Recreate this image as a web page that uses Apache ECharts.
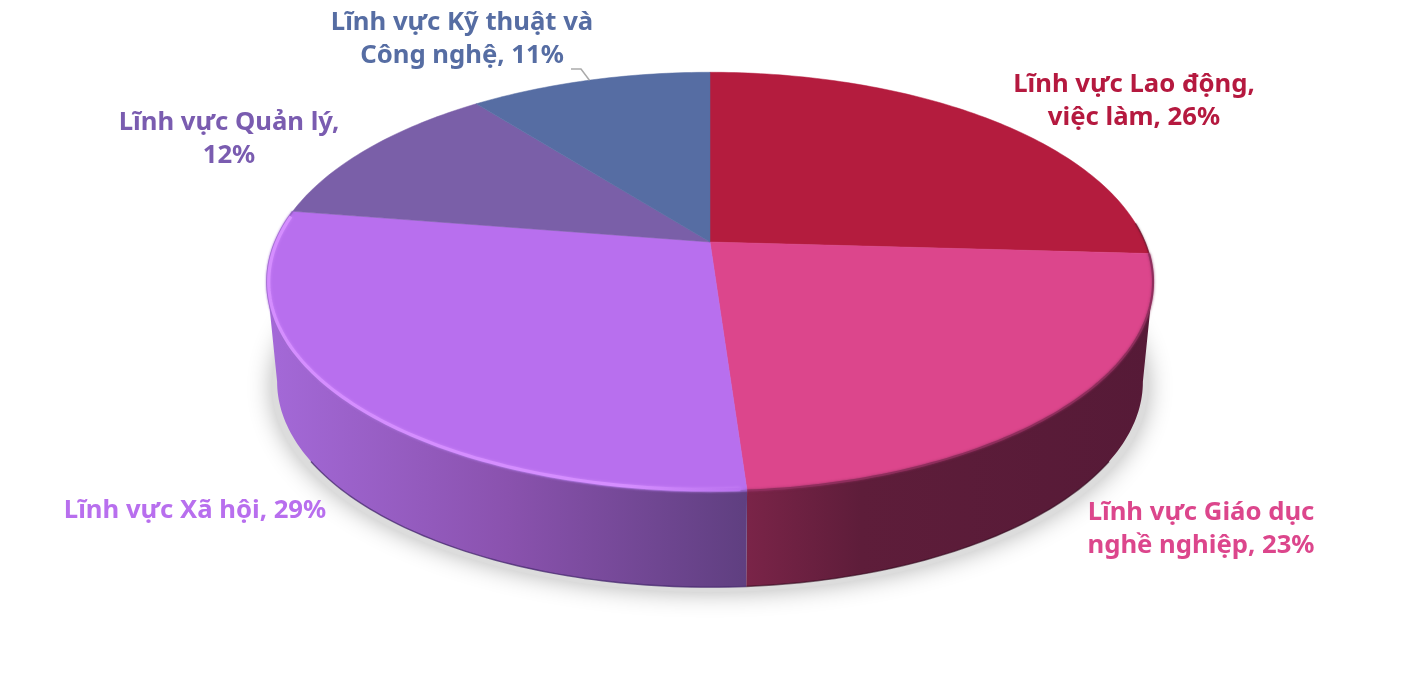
<!DOCTYPE html>
<html>
<head>
<meta charset="utf-8">
<style>html,body{margin:0;padding:0;background:#fff}#c{width:1422px;height:685px}</style>
<script src="https://cdn.jsdelivr.net/npm/echarts@6/dist/echarts.min.js"></script>
</head>
<body>
<div id="c"></div>
<script>
// ---- data ----
const categories = ['Lĩnh vực Lao động,\nviệc làm', 'Lĩnh vực Giáo dục\nnghề nghiệp', 'Lĩnh vực Xã hội', 'Lĩnh vực Quản lý,', 'Lĩnh vực Kỹ thuật và\nCông nghệ'];
const shares = [25.9, 23.0, 28.6, 11.9, 10.6];
const labelSeparators = [', ', ', ', ', ', '\n', ', '];

// ---- styles ----
const topColors = ['#B41C3E', '#DC468C', '#B86FEE', '#7A5FA8', '#566DA3'];
const labelColors = ['#B5193F', '#DC468C', '#B86FEE', '#7A5CB0', '#566DA3'];
const wallStops = [
  [[0, '#4c1328'], [1, '#4c1328']],
  [[0, '#7a2448'], [0.28, '#5e1d3a'], [1, '#561a37']],
  [[0, '#a469d8'], [0.5, '#8a52ae'], [1, '#5f3f80']],
  [[0, '#6b5090'], [1, '#6b5090']],
  [[0, '#4b5f90'], [1, '#4b5f90']]
];
const wallRange = [[1100, 1154], [747, 1154], [268, 747], [268, 500], [470, 710]];
const labelAnchors = [[1134, 101], [1201, 529], [195, 511], [229, 139], [462, 39]];

// ---- pie geometry (a tilted disc seen in perspective) ----
const G = { cx: 710, apexY: 242, slope: 156, persp: -0.19, radius: 435, midY: 282, depth: 100, sx: 0.977, sy: 0.98, frontFrom: 0.2804, frontTo: 0.7196 };
function rim(t) {
  const a = 2 * Math.PI * t, X = Math.sin(a), Y = -Math.cos(a), d = 1 + G.persp * Y;
  return [G.cx + G.radius * X / d, (G.apexY + G.slope * Y) / d];
}
function base(p) {
  return [G.cx + G.sx * (p[0] - G.cx), G.midY + G.depth + G.sy * (p[1] - G.midY)];
}
function arc(t0, t1) {
  const n = Math.max(2, Math.ceil((t1 - t0) * 360)), pts = [];
  for (let k = 0; k <= n; k++) pts.push(rim(t0 + (t1 - t0) * k / n));
  return pts;
}
const total = shares.reduce((a, b) => a + b, 0);
let run = 0;
const starts = shares.map(v => { const s = run; run += v; return s; });
const seriesData = categories.map((name, i) => ({ name, value: [shares[i], starts[i]] }));
const range = api => { const t0 = api.value(1) / total; return [t0, t0 + api.value(0) / total]; };
const labelText = i => categories[i] + labelSeparators[i] + Math.round(shares[i] / total * 100) + '%';
const line = (points, stroke, lineWidth, blur, opacity, shadowColor) => ({
  type: 'polyline', shape: { points },
  style: { fill: null, stroke, lineWidth, shadowBlur: blur || 0, shadowColor: shadowColor || stroke, opacity: opacity == null ? 1 : opacity }
});

const custom = (name, z, renderItem) => ({
  type: 'custom', name, z, coordinateSystem: 'none', silent: true, animation: false,
  data: seriesData, renderItem
});

const option = {
  animation: false,
  backgroundColor: '#fff',
  series: [
    custom('shadow', 1, (p) => {
      if (p.dataIndex !== 0) return null;
      const pts = arc(0, 1).map(q => { const b = base(q); return [G.cx + 1.012 * (b[0] - G.cx), b[1] + 5]; });
      return { type: 'polygon', shape: { points: pts }, style: { fill: '#dcdcdc', shadowBlur: 24, shadowColor: 'rgba(0,0,0,0.3)' } };
    }),
    custom('walls', 2, (p, api) => {
      const i = p.dataIndex, [t0, t1] = range(api);
      const from = Math.max(t0, G.frontFrom), to = Math.min(t1, G.frontTo);
      if (to <= from) return null;
      const top = arc(from, to), bot = top.map(base);
      const [x0, x1] = wallRange[i];
      const fill = { type: 'linear', x: x0, y: 0, x2: x1, y2: 0, global: true, colorStops: wallStops[i].map(s => ({ offset: s[0], color: s[1] })) };
      const edgeFrom = Math.max(t0, G.frontFrom + 0.06), edgeTo = Math.min(t1, G.frontTo - 0.06);
      return {
        type: 'group', children: [
          { type: 'polygon', shape: { points: top.concat(bot.slice().reverse()) }, style: { fill } },
          line(arc(edgeFrom, edgeTo).map(base), i === 2 ? 'rgba(70,40,110,0.75)' : 'rgba(50,10,30,0.6)', 1.4)
        ]
      };
    }),
    custom('tops', 3, (p, api) => {
      const i = p.dataIndex, [t0, t1] = range(api);
      return {
        type: 'polygon', shape: { points: [[G.cx, G.apexY]].concat(arc(t0, t1)) },
        style: { fill: topColors[i], stroke: topColors[i], lineWidth: 0.5 }
      };
    }),
    custom('bevel', 4, (p, api) => {
      const i = p.dataIndex, [t0, t1] = range(api);
      const inset = q => [G.cx + 0.996 * (q[0] - G.cx), G.midY + 0.992 * (q[1] - G.midY)];
      const children = [];
      if (i === 0) children.push(line(arc(0.235, t1), '#5e1228', 1.2, 2, 0.55));
      if (i === 1) children.push(line(arc(t0, t1), '#8d2d5c', 2, 2.5, 0.95));
      if (i === 2) {
        children.push(line(arc(t0, t1), '#8f5ec0', 1.6, 2, 0.8));
        const glow = {
          type: 'linear', x: 268, y: 0, x2: 747, y2: 0, global: true,
          colorStops: [{ offset: 0, color: '#d58eff' }, { offset: 0.75, color: '#d58eff' }, { offset: 1, color: topColors[2] }]
        };
        children.push(line(arc(t0 + 0.002, t1 - 0.004).map(inset), glow, 3.2, 3, 1, 'rgba(213,142,255,0.7)'));
      }
      return { type: 'group', children };
    }),
    custom('labels', 5, (p, api) => {
      const i = p.dataIndex, [t0, t1] = range(api), a = labelAnchors[i];
      const children = [{
        type: 'text', x: a[0], y: a[1],
        style: { text: labelText(i), fill: labelColors[i], align: 'center', verticalAlign: 'middle', font: '700 25.7px "Noto Sans"', lineHeight: 33 }
      }];
      if (i === 4) children.push(line([[571, 69], [581, 69], rim((t0 + t1) / 2)], '#aaaaaa', 1.5));
      return { type: 'group', children };
    })
  ]
};
echarts.init(document.getElementById('c'), null, { renderer: 'canvas' }).setOption(option);
</script>
</body>
</html>
